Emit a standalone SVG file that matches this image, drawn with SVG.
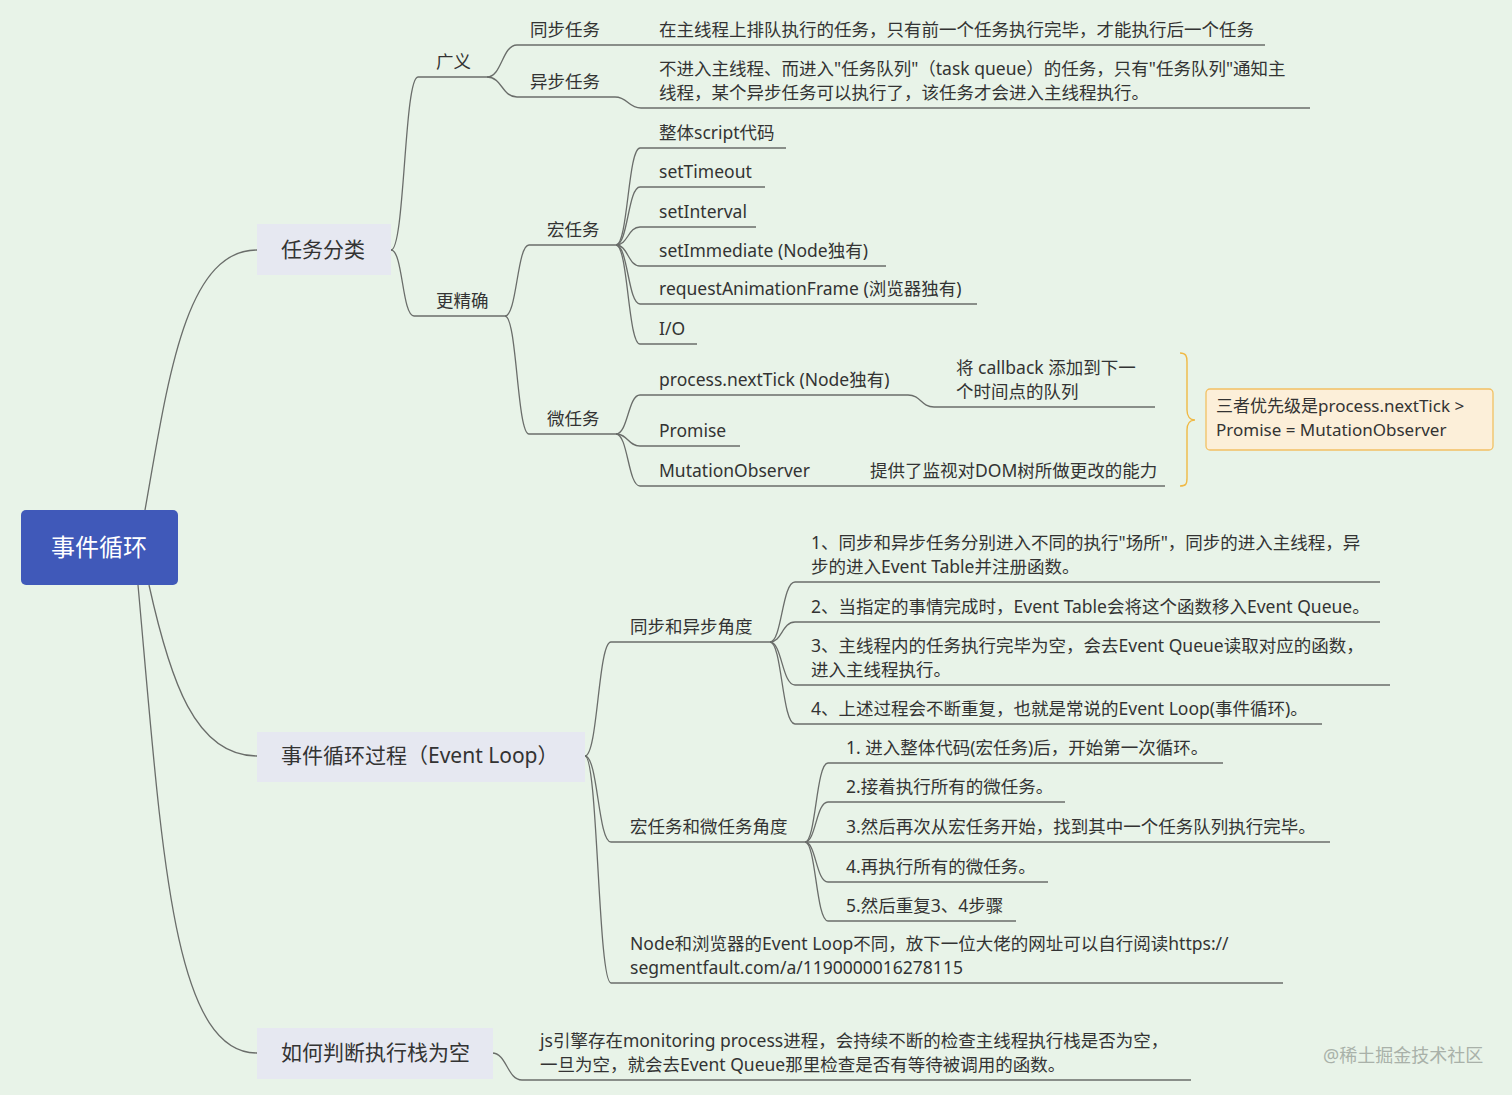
<svg xmlns="http://www.w3.org/2000/svg" width="1512" height="1095" viewBox="0 0 1512 1095">
<style>
text{font-family:"Noto Sans","Noto Sans CJK SC",sans-serif;fill:#333;font-size:17.5px}
.l1{font-size:21px}
.root{font-size:24px;fill:#fff}
.pri{font-size:17px}
.wm{font-size:18px;fill:#a9b1a9}
.c{fill:none;stroke:#6a6d6a;stroke-width:1.3}
.box{fill:#e6e8f1}
</style>
<rect width="1512" height="1095" fill="#e8f3e8"/>
<g id="connectors">
<path class="c" d="M145,510 C168,380 185,250 257,250"/>
<path class="c" d="M149,585 C170,680 195,756 257,756"/>
<path class="c" d="M138,585 C162,850 172,1053 257,1053"/>
<path class="c" d="M391,250 C405,250 404,77 418,77 L487,77"/>
<path class="c" d="M391,250 C403,250 402,316 414,316 L505,316"/>
<path class="c" d="M487,77 C502,77 502,45 517,45 L1265,45"/>
<path class="c" d="M487,77 C502,77 502,97 517,97 L615,97 C628,97 628,108 641,108 L1310,108"/>
<path class="c" d="M505,316 C517,316 517,245 529,245 L616,245"/>
<path class="c" d="M505,316 C517,316 517,434 529,434 L616,434"/>
<path class="c" d="M616,245 C628,245 628,148 640,148 L786,148"/>
<path class="c" d="M616,245 C628,245 628,187 640,187 L765,187"/>
<path class="c" d="M616,245 C628,245 628,227 640,227 L756,227"/>
<path class="c" d="M616,245 C628,245 628,266 640,266 L886,266"/>
<path class="c" d="M616,245 C628,245 628,304 640,304 L977,304"/>
<path class="c" d="M616,245 C628,245 628,344 640,344 L697,344"/>
<path class="c" d="M616,434 C628,434 628,395 640,395 L908,395 C921,395 921,407 934,407 L1155,407"/>
<path class="c" d="M616,434 C628,434 628,446 640,446 L740,446"/>
<path class="c" d="M616,434 C628,434 628,486 640,486 L1165,486"/>
<path class="c" d="M585,756 C598,756 598,642 611,642 L770,642"/>
<path class="c" d="M585,756 C598,756 598,842 611,842 L805,842"/>
<path class="c" d="M585,756 C598,756 598,983 611,983 L1283,983"/>
<path class="c" d="M770,642 C782,642 782,582 795,582 L1380,582"/>
<path class="c" d="M770,642 C782,642 782,622 795,622 L1380,622"/>
<path class="c" d="M770,642 C782,642 782,685 795,685 L1390,685"/>
<path class="c" d="M770,642 C782,642 782,724 795,724 L1322,724"/>
<path class="c" d="M805,842 C816,842 816,763 828,763 L1223,763"/>
<path class="c" d="M805,842 C816,842 816,802 828,802 L1065,802"/>
<path class="c" d="M805,842 L1330,842"/>
<path class="c" d="M805,842 C816,842 816,882 828,882 L1048,882"/>
<path class="c" d="M805,842 C816,842 816,921 828,921 L1016,921"/>
<path class="c" d="M492,1053 C507,1053 507,1080 522,1080 L1191,1080"/>
<path d="M1180,353 C1186,353 1187,356 1187,362 L1187,410 C1187,416 1190,420 1195,420 C1190,420 1187,424 1187,430 L1187,478 C1187,484 1186,486 1180,486" fill="none" stroke="#f0b945" stroke-width="1.4"/>
</g>
<g id="root"><rect x="21" y="510" width="157" height="75" rx="5" fill="#4059b9"/><text class="root" x="99" y="556" text-anchor="middle">事件循环</text></g>
<g id="n-renwufenlei"><rect class="box" x="257" y="224" width="134" height="51"/><text class="l1" x="281" y="257">任务分类</text></g>
<g id="n-guangyi"><text x="436" y="68">广义</text></g>
<g id="n-tongbu"><text x="530" y="36">同步任务</text></g>
<g id="n-tongbu-d"><text x="659" y="36">在主线程上排队执行的任务，只有前一个任务执行完毕，才能执行后一个任务</text></g>
<g id="n-yibu"><text x="530" y="88">异步任务</text></g>
<g id="n-yibu-d"><text x="659" y="75">不进入主线程、而进入"任务队列"（task queue）的任务，只有"任务队列"通知主</text><text x="659" y="99">线程，某个异步任务可以执行了，该任务才会进入主线程执行。</text></g>
<g id="n-gengjingque"><text x="436" y="307">更精确</text></g>
<g id="n-hong"><text x="547" y="236">宏任务</text></g>
<g id="n-h1"><text x="659" y="139">整体script代码</text></g>
<g id="n-h2"><text x="659" y="178">setTimeout</text></g>
<g id="n-h3"><text x="659" y="218">setInterval</text></g>
<g id="n-h4"><text x="659" y="257">setImmediate (Node独有)</text></g>
<g id="n-h5"><text x="659" y="295">requestAnimationFrame (浏览器独有)</text></g>
<g id="n-h6"><text x="659" y="335">I/O</text></g>
<g id="n-wei"><text x="547" y="425">微任务</text></g>
<g id="n-w1"><text x="659" y="386">process.nextTick (Node独有)</text></g>
<g id="n-w1-d"><text x="956" y="374">将 callback 添加到下一</text><text x="956" y="398">个时间点的队列</text></g>
<g id="n-w2"><text x="659" y="437">Promise</text></g>
<g id="n-w3"><text x="659" y="477">MutationObserver</text></g>
<g id="n-w3-d"><text x="870" y="477">提供了监视对DOM树所做更改的能力</text></g>
<g id="n-priority"><rect x="1206" y="389" width="287" height="61" rx="4" fill="#fcefd9" stroke="#f2c063" stroke-width="1.3"/><text class="pri" x="1216" y="412">三者优先级是process.nextTick &gt;</text><text class="pri" x="1216" y="436">Promise = MutationObserver</text></g>
<g id="n-eventloop"><rect class="box" x="257" y="732" width="328" height="50"/><text class="l1" x="281" y="763">事件循环过程（Event Loop）</text></g>
<g id="n-tby"><text x="630" y="633">同步和异步角度</text></g>
<g id="n-t1"><text x="811" y="549">1、同步和异步任务分别进入不同的执行"场所"，同步的进入主线程，异</text><text x="811" y="573">步的进入Event Table并注册函数。</text></g>
<g id="n-t2"><text x="811" y="613">2、当指定的事情完成时，Event Table会将这个函数移入Event Queue。</text></g>
<g id="n-t3"><text x="811" y="652">3、主线程内的任务执行完毕为空，会去Event Queue读取对应的函数，</text><text x="811" y="676">进入主线程执行。</text></g>
<g id="n-t4"><text x="811" y="715">4、上述过程会不断重复，也就是常说的Event Loop(事件循环)。</text></g>
<g id="n-hw"><text x="630" y="833">宏任务和微任务角度</text></g>
<g id="n-m1"><text x="846" y="754">1. 进入整体代码(宏任务)后，开始第一次循环。</text></g>
<g id="n-m2"><text x="846" y="793">2.接着执行所有的微任务。</text></g>
<g id="n-m3"><text x="846" y="833">3.然后再次从宏任务开始，找到其中一个任务队列执行完毕。</text></g>
<g id="n-m4"><text x="846" y="873">4.再执行所有的微任务。</text></g>
<g id="n-m5"><text x="846" y="912">5.然后重复3、4步骤</text></g>
<g id="n-node"><text x="630" y="950">Node和浏览器的Event Loop不同，放下一位大佬的网址可以自行阅读https://</text><text x="630" y="974">segmentfault.com/a/1190000016278115</text></g>
<g id="n-empty"><rect class="box" x="257" y="1028" width="236" height="51"/><text class="l1" x="281" y="1060">如何判断执行栈为空</text></g>
<g id="n-empty-d"><text x="540" y="1047">js引擎存在monitoring process进程，会持续不断的检查主线程执行栈是否为空，</text><text x="540" y="1071">一旦为空，就会去Event Queue那里检查是否有等待被调用的函数。</text></g>
<text class="wm" x="1323" y="1062">@稀土掘金技术社区</text>
</svg>
